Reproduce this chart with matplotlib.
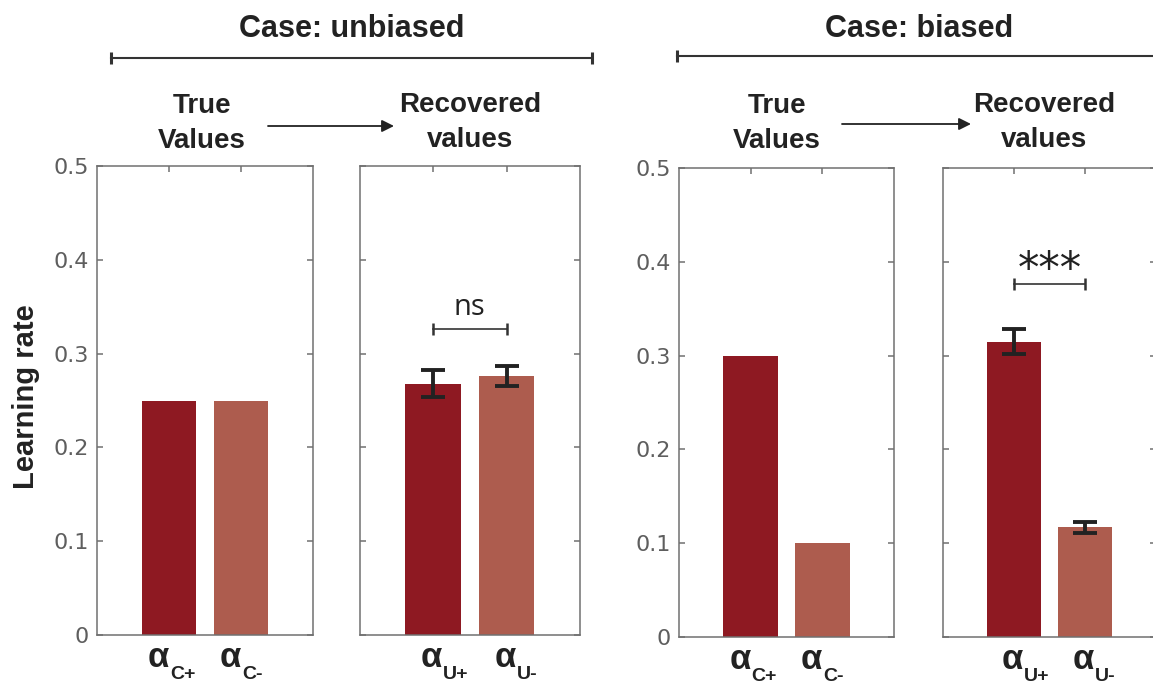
import matplotlib.pyplot as plt
from matplotlib.lines import Line2D
from matplotlib.patches import FancyArrowPatch

W, H = 1153, 686

# data
case_titles = ['Case: unbiased', 'Case: biased']
step_titles = ['True\nValues', 'Recovered\nvalues']
true_unbiased = [0.25, 0.25]
rec_unbiased = [0.268, 0.276]
rec_unbiased_err = [0.014, 0.011]
true_biased = [0.30, 0.10]
rec_biased = [0.315, 0.117]
rec_biased_err = [0.013, 0.006]
true_subs = ['C+', 'C-']
rec_subs = ['U+', 'U-']
sig_unbiased = ['ns', 0.326]
sig_biased = ['***', 0.376]
yticks = [0, 0.1, 0.2, 0.3, 0.4, 0.5]
ytick_labels = ['0', '0.1', '0.2', '0.3', '0.4', '0.5']

dark = '#8e1922'
light = '#ad5c4e'
spine_col = '#707070'
ink = '#222222'

plt.rcParams['font.family'] = ['Liberation Sans', 'DejaVu Sans']

fig = plt.figure(figsize=(W / 100, H / 100), dpi=100)


def fx(x):
    return x / W


def fy(y):
    return 1 - y / H


def make_ax(l, t, r, b, show_labels):
    ax = fig.add_axes([l / W, (H - b) / H, (r - l) / W, (b - t) / H])
    ax.set_xlim(0, 3)
    ax.set_ylim(0, 0.5)
    ax.set_xticks([1, 2])
    ax.set_xticklabels([])
    ax.set_yticks(yticks)
    if show_labels:
        ax.set_yticklabels(ytick_labels, fontfamily='DejaVu Sans', fontsize=16, color='#5e5e5e')
    else:
        ax.set_yticklabels([])
    ax.tick_params(axis='both', direction='in', length=4, width=1.1, color=spine_col,
                   left=True, right=True, top=True, bottom=False, pad=6)
    for s in ax.spines.values():
        s.set_color(spine_col)
        s.set_linewidth(1.1)
    return ax


def alpha_labels(ax, subs, dx, dy):
    for x, sub in zip([1, 2], subs):
        ax.annotate('α', xy=(x, 0), xycoords='data', xytext=(dx, -dy), textcoords='offset pixels',
                    ha='right', va='baseline', fontsize=25, fontweight='bold', color=ink)
        ax.annotate(sub, xy=(x, 0), xycoords='data', xytext=(dx + 1, -dy - 12), textcoords='offset pixels',
                    ha='left', va='baseline', fontsize=14, fontweight='bold', color=ink)


def sig_bracket(ax, sig, text_kw, txt_off):
    label, y = sig
    ax.plot([1, 2], [y, y], color='#333333', lw=1.2, marker='|', ms=9, mew=1.8)
    ax.annotate(label, xy=(1.5, y), xycoords='data', xytext=(0, txt_off), textcoords='offset pixels',
                ha='center', va='baseline', color=ink, **text_kw)


panels = [
    (97, 166, 313, 635, True, true_unbiased, None, true_subs, 0),
    (359.5, 166, 580, 635, False, rec_unbiased, rec_unbiased_err, rec_subs, 9),
    (679, 168, 894, 637, True, true_biased, None, true_subs, 0),
    (943, 168, 1156, 637, False, rec_biased, rec_biased_err, rec_subs, 9),
]

axes = []
for l, t, r, b, lab, vals, err, subs, dx in panels:
    ax = make_ax(l, t, r, b, lab)
    ax.bar([1, 2], vals, width=0.76, color=[dark, light], zorder=2)
    if err is not None:
        ax.errorbar([1, 2], vals, yerr=err, fmt='none', ecolor=ink, elinewidth=2.8,
                    capsize=8.5, capthick=2.8, zorder=3)
    alpha_labels(ax, subs, dx, 32)
    axes.append(ax)

sig_bracket(axes[1], sig_unbiased, dict(fontfamily='Open Sans', fontsize=21), 14)
sig_bracket(axes[3], sig_biased, dict(fontfamily='DejaVu Sans', fontsize=31), 2)

# y label
fig.text(fx(26), fy(397), 'Learning rate', rotation=90, ha='center', va='center',
         fontsize=21, fontweight='bold', color=ink)

# case headers with brackets
fig.text(fx(352), fy(37), case_titles[0], ha='center', va='baseline', fontsize=22,
         fontweight='bold', color=ink)
fig.text(fx(919), fy(37), case_titles[1], ha='center', va='baseline', fontsize=22,
         fontweight='bold', color=ink)
fig.add_artist(Line2D([fx(111), fx(592)], [fy(58), fy(58)], transform=fig.transFigure,
                      color='#333333', lw=1.5, marker='|', ms=9, mew=2.2))
fig.add_artist(Line2D([fx(677), fx(1170)], [fy(56), fy(56)], transform=fig.transFigure,
                      color='#333333', lw=1.5, marker='|', ms=9, mew=2.2, markevery=[0]))

# step labels and arrows
for cx in [202, 777]:
    fig.text(fx(cx), fy(113), 'True', ha='center', va='baseline', fontsize=20,
             fontweight='bold', color=ink)
    fig.text(fx(cx), fy(148), 'Values', ha='center', va='baseline', fontsize=20,
             fontweight='bold', color=ink)
for cx in [470, 1044]:
    fig.text(fx(cx), fy(112), 'Recovered', ha='center', va='baseline', fontsize=20,
             fontweight='bold', color=ink)
    fig.text(fx(cx), fy(147), 'values', ha='center', va='baseline', fontsize=20,
             fontweight='bold', color=ink)

for x0, x1, y in [(268, 394, 126), (842, 971, 124)]:
    fig.add_artist(FancyArrowPatch((fx(x0), fy(y)), (fx(x1), fy(y)), transform=fig.transFigure,
                                   arrowstyle='-|>', mutation_scale=18, color=ink, lw=1.3,
                                   shrinkA=0, shrinkB=0))

fig.savefig('out.png', dpi=100)
